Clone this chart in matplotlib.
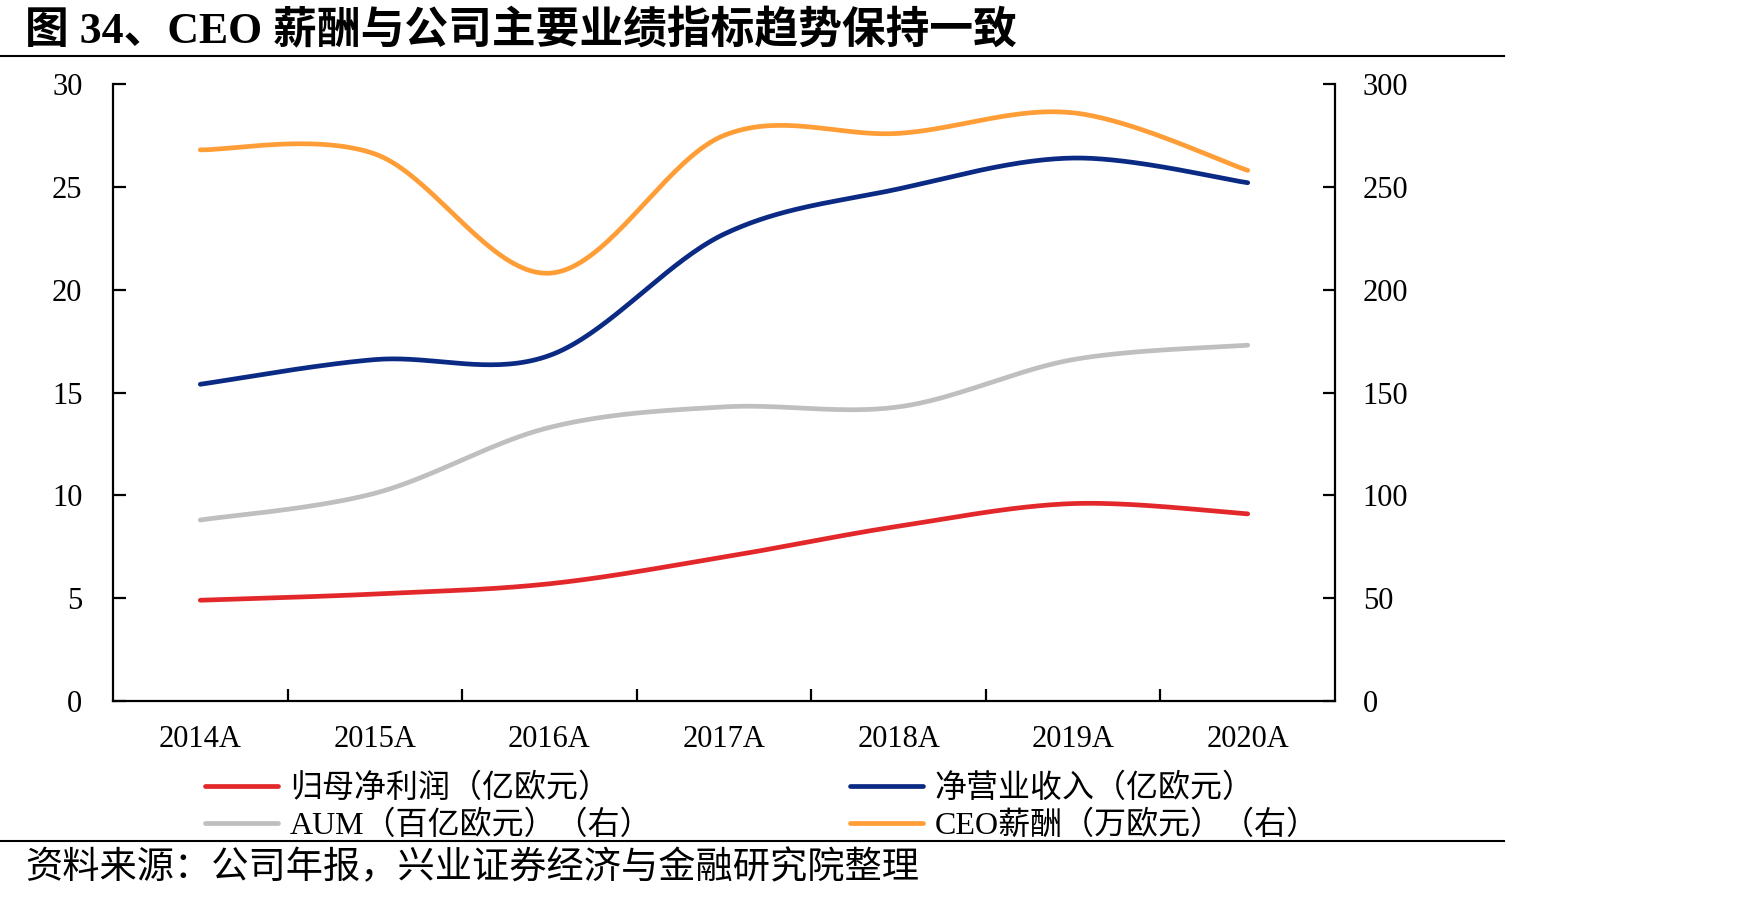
import numpy as np
import matplotlib
matplotlib.use("Agg")
import matplotlib.pyplot as plt
from matplotlib.lines import Line2D

# ---------------- data ----------------
years = ["2014A", "2015A", "2016A", "2017A", "2018A", "2019A", "2020A"]
net_profit = [4.9, 5.2, 5.7, 7.0, 8.5, 9.6, 9.1]          # 归母净利润（亿欧元） left
net_revenue = [15.4, 16.6, 16.8, 22.7, 24.9, 26.4, 25.2]  # 净营业收入（亿欧元） left
aum = [88, 101, 133, 143, 143, 166, 173]                   # AUM（百亿欧元） right
ceo_pay = [268, 266, 208, 275, 276, 286, 258]              # CEO薪酬（万欧元） right

left_ticks = [0, 5, 10, 15, 20, 25, 30]
right_ticks = [0, 50, 100, 150, 200, 250, 300]

title = "图 34、CEO 薪酬与公司主要业绩指标趋势保持一致"
source = "资料来源：公司年报，兴业证券经济与金融研究院整理"
labels = ["归母净利润（亿欧元）", "净营业收入（亿欧元）", "AUM（百亿欧元）（右）", "CEO薪酬（万欧元）（右）"]
colors = ["#E3282B", "#0B2A84", "#BFBFBF", "#FF9D37"]

FONT = ["Liberation Serif", "Noto Sans CJK SC", "DejaVu Sans"]
plt.rcParams["font.family"] = FONT


def smooth(xs, ys, n=40):
    """Excel-style smoothed line (Catmull-Rom as cubic Bezier)."""
    xs = np.asarray(xs, float)
    ys = np.asarray(ys, float)
    pts = np.column_stack([xs, ys])
    out = []
    m = len(pts)
    t = np.linspace(0, 1, n)[:, None]
    for i in range(m - 1):
        p0 = pts[i - 1] if i > 0 else pts[i]
        p1 = pts[i]
        p2 = pts[i + 1]
        p3 = pts[i + 2] if i + 2 < m else pts[i + 1]
        c1 = p1 + (p2 - p0) / 6.0
        c2 = p2 - (p3 - p1) / 6.0
        seg = ((1 - t) ** 3) * p1 + 3 * ((1 - t) ** 2) * t * c1 + 3 * (1 - t) * t ** 2 * c2 + t ** 3 * p2
        out.append(seg if i == 0 else seg[1:])
    arr = np.vstack(out)
    return arr[:, 0], arr[:, 1]


W, H = 1753, 899
fig = plt.figure(figsize=(W / 100, H / 100), dpi=100)
ax = fig.add_axes([113 / W, 1 - 701 / H, (1335 - 113) / W, (701 - 84) / H])
ax2 = ax.twinx()

x = np.arange(len(years)) + 0.5
lw = 3.4
h_np, = ax.plot(*smooth(x, net_profit), color=colors[0], lw=lw, solid_capstyle="round", label=labels[0])
h_nr, = ax.plot(*smooth(x, net_revenue), color=colors[1], lw=lw, solid_capstyle="round", label=labels[1])
h_aum, = ax2.plot(*smooth(x, aum), color=colors[2], lw=lw, solid_capstyle="round", label=labels[2])
h_ceo, = ax2.plot(*smooth(x, ceo_pay), color=colors[3], lw=lw, solid_capstyle="round", label=labels[3])
ax.set_zorder(ax2.get_zorder() + 1)
ax.patch.set_visible(False)

ax.set_xlim(0, len(years))
ax.set_ylim(0, 30)
ax2.set_ylim(0, 300)
ax.set_yticks(left_ticks)
ax2.set_yticks(right_ticks)
ax.set_xticks(x)
ax.set_xticklabels(years)
ax.set_xticks(np.arange(1, len(years)), minor=True)

for a in (ax, ax2):
    a.spines["top"].set_visible(False)
    for s in ("left", "right", "bottom"):
        a.spines[s].set_linewidth(1.6)
ax.spines["right"].set_visible(False)
ax2.spines["left"].set_visible(False)
ax2.spines["bottom"].set_visible(False)

ax.tick_params(axis="y", direction="in", length=9, width=1.6, labelsize=22, pad=22)
ax2.tick_params(axis="y", direction="in", length=9, width=1.6, labelsize=22, pad=20)
ax.tick_params(axis="x", which="major", length=0, labelsize=22, pad=17)
ax.tick_params(axis="x", which="minor", direction="in", length=9, width=1.6)

# legends (two columns)
leg_kw = dict(frameon=False, fontsize=23, handlelength=2.3, handletextpad=0.35,
              labelspacing=0.2, borderpad=0, borderaxespad=0, loc="upper left")
leg1 = fig.legend([h_np, h_aum], [labels[0], labels[2]], bbox_to_anchor=(205 / W, 1 - 774 / H), **leg_kw)
leg2 = fig.legend([h_nr, h_ceo], [labels[1], labels[3]], bbox_to_anchor=(850 / W, 1 - 774 / H), **leg_kw)

# title, rules and source
fig.text(25 / W, 1 - 31 / H, title, fontsize=31.5, fontweight="bold", va="center", ha="left")
fig.add_artist(Line2D([0, 1504 / W], [1 - 56 / H, 1 - 56 / H], color="black", lw=1.5, transform=fig.transFigure))
fig.add_artist(Line2D([0, 1504 / W], [1 - 841 / H, 1 - 841 / H], color="black", lw=1.5, transform=fig.transFigure))
fig.text(25 / W, 1 - 869 / H, source, fontsize=26.8, va="center", ha="left")

fig.savefig("out.png", dpi=100)
